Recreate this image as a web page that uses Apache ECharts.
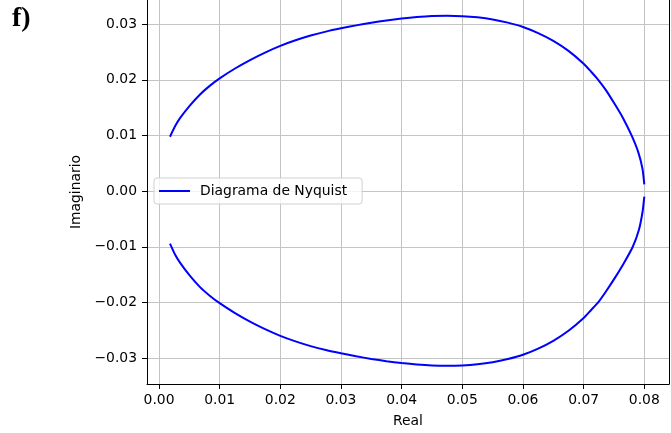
<!DOCTYPE html>
<html>
<head>
<meta charset="utf-8">
<title>Diagrama de Nyquist</title>
<script src="https://cdn.jsdelivr.net/npm/echarts@6/dist/echarts.min.js"></script>
<style>
  html, body { margin: 0; padding: 0; background: #fff; overflow: hidden; }
  #chart { width: 671px; height: 433px; }
</style>
</head>
<body>
<div id="chart"></div>
<script>
// Upper branch of the Nyquist curve (Real, Imaginario)
const upperReal = [0.00181, 0.00264, 0.00346, 0.00511, 0.00676, 0.00841, 0.01006, 0.01253, 0.01500, 0.01748, 0.0200, 0.0225, 0.0250, 0.0275, 0.0300, 0.0325, 0.0350, 0.0375, 0.0400, 0.0425, 0.0450, 0.0475, 0.0500, 0.0525, 0.0550, 0.0575, 0.0600, 0.0625, 0.0650, 0.0675, 0.0700, 0.0712, 0.0724, 0.0737, 0.0752, 0.0765, 0.0779, 0.0790, 0.0797, 0.0800];
const upperImag = [0.00976, 0.01164, 0.01310, 0.01540, 0.01737, 0.01895, 0.02030, 0.02203, 0.02355, 0.02490, 0.02610, 0.02710, 0.02795, 0.02866, 0.02925, 0.02978, 0.03025, 0.03066, 0.03100, 0.03127, 0.03145, 0.03150, 0.03143, 0.03122, 0.03085, 0.03027, 0.02950, 0.02840, 0.02700, 0.02520, 0.02290, 0.02150, 0.02000, 0.01810, 0.01550, 0.01310, 0.01000, 0.00700, 0.00400, 0.00120];

// Lower branch of the Nyquist curve
const lowerReal = [0.00181, 0.00264, 0.00346, 0.00511, 0.00676, 0.00841, 0.01006, 0.01253, 0.01500, 0.01748, 0.0200, 0.0225, 0.0250, 0.0275, 0.0300, 0.0325, 0.0350, 0.0375, 0.0400, 0.0425, 0.0450, 0.0475, 0.0500, 0.0525, 0.0550, 0.0575, 0.0600, 0.0625, 0.0650, 0.0675, 0.0700, 0.0712, 0.0724, 0.0737, 0.0752, 0.0766, 0.0781, 0.0791, 0.0797, 0.0800];
const lowerImag = [-0.00945, -0.01140, -0.01285, -0.01525, -0.01725, -0.01883, -0.02018, -0.02192, -0.02345, -0.02480, -0.02600, -0.02700, -0.02785, -0.02856, -0.02915, -0.02968, -0.03015, -0.03056, -0.03090, -0.03117, -0.03135, -0.03140, -0.03133, -0.03112, -0.03075, -0.03017, -0.02940, -0.02830, -0.02690, -0.02510, -0.02280, -0.02140, -0.02000, -0.01800, -0.01550, -0.01300, -0.01000, -0.00700, -0.00380, -0.00100];

// Tick positions
const realTicks = [0.00, 0.01, 0.02, 0.03, 0.04, 0.05, 0.06, 0.07, 0.08];
const imagTicks = [-0.03, -0.02, -0.01, 0.00, 0.01, 0.02, 0.03];

const seriesName = 'Diagrama de Nyquist';
const FONT = 'DejaVu Sans';

function pairs(xs, ys) {
  return xs.map((x, i) => [x, ys[i]]);
}
function fmt(v) {
  return (Math.abs(v) < 1e-12 ? 0 : v).toFixed(2).replace('-', '\u2212');
}

const X_MIN = -0.00198, X_MAX = 0.08407;
const Y_MIN = -0.03466, Y_MAX = 0.03434;

const gridLine = { show: true, lineStyle: { color: '#c4c4c4', width: 1 } };
const blackLine = { show: true, onZero: false, lineStyle: { color: '#000', width: 1 } };
const curveStyle = { color: '#0000ff', width: 2 };
const labelFont = { fontFamily: FONT, fontSize: 13.9, color: '#000' };

const chart = echarts.init(document.getElementById('chart'), null, { renderer: 'canvas' });
chart.setOption({
  animation: false,
  backgroundColor: '#fff',
  textStyle: { fontFamily: FONT },
  grid: { left: 147, right: 2, top: 0, bottom: 48, show: false },
  xAxis: {
    type: 'value',
    min: X_MIN, max: X_MAX,
    name: 'Real',
    nameLocation: 'middle',
    nameGap: 30,
    nameTextStyle: labelFont,
    axisLine: blackLine,
    axisTick: { show: true, length: 5, customValues: realTicks, lineStyle: { color: '#000', width: 1 } },
    axisLabel: Object.assign({ customValues: realTicks, formatter: fmt, margin: 9 }, labelFont),
    splitLine: gridLine
  },
  yAxis: [
    {
      type: 'value',
      min: Y_MIN, max: Y_MAX,
      name: 'Imaginario',
      nameLocation: 'middle',
      nameGap: 58,
      nameTextStyle: labelFont,
      axisLine: blackLine,
      axisTick: { show: true, length: 5, customValues: imagTicks, lineStyle: { color: '#000', width: 1 } },
      axisLabel: Object.assign({ customValues: imagTicks, formatter: fmt, margin: 10 }, labelFont),
      splitLine: gridLine
    },
    {
      // right-hand frame line
      type: 'value', position: 'right',
      min: Y_MIN, max: Y_MAX,
      axisLine: blackLine,
      axisTick: { show: false }, axisLabel: { show: false }, splitLine: { show: false }
    }
  ],
  legend: {
    data: [seriesName],
    left: 154, top: 178,
    orient: 'vertical',
    icon: 'rect',
    itemWidth: 31, itemHeight: 2,
    padding: [6, 15, 6, 5],
    backgroundColor: 'rgba(255,255,255,0.8)',
    borderColor: '#d0d0d0', borderWidth: 1, borderRadius: 3,
    textStyle: { fontFamily: FONT, fontSize: 13.9, color: '#000', padding: [0, 0, 0, 5] }
  },
  graphic: [
    {
      type: 'text', left: 12, top: 5,
      style: { text: 'f)', font: 'bold 28px "Liberation Serif", "Times New Roman", serif', fill: '#000' }
    }
  ],
  series: [
    {
      name: seriesName, type: 'line', data: pairs(upperReal, upperImag),
      smooth: 0.2, showSymbol: false, symbol: 'none',
      lineStyle: curveStyle, itemStyle: { color: '#0000ff' },
      z: 3
    },
    {
      name: seriesName, type: 'line', data: pairs(lowerReal, lowerImag),
      smooth: 0.2, showSymbol: false, symbol: 'none',
      lineStyle: curveStyle, itemStyle: { color: '#0000ff' },
      z: 3
    }
  ]
});
</script>
</body>
</html>
